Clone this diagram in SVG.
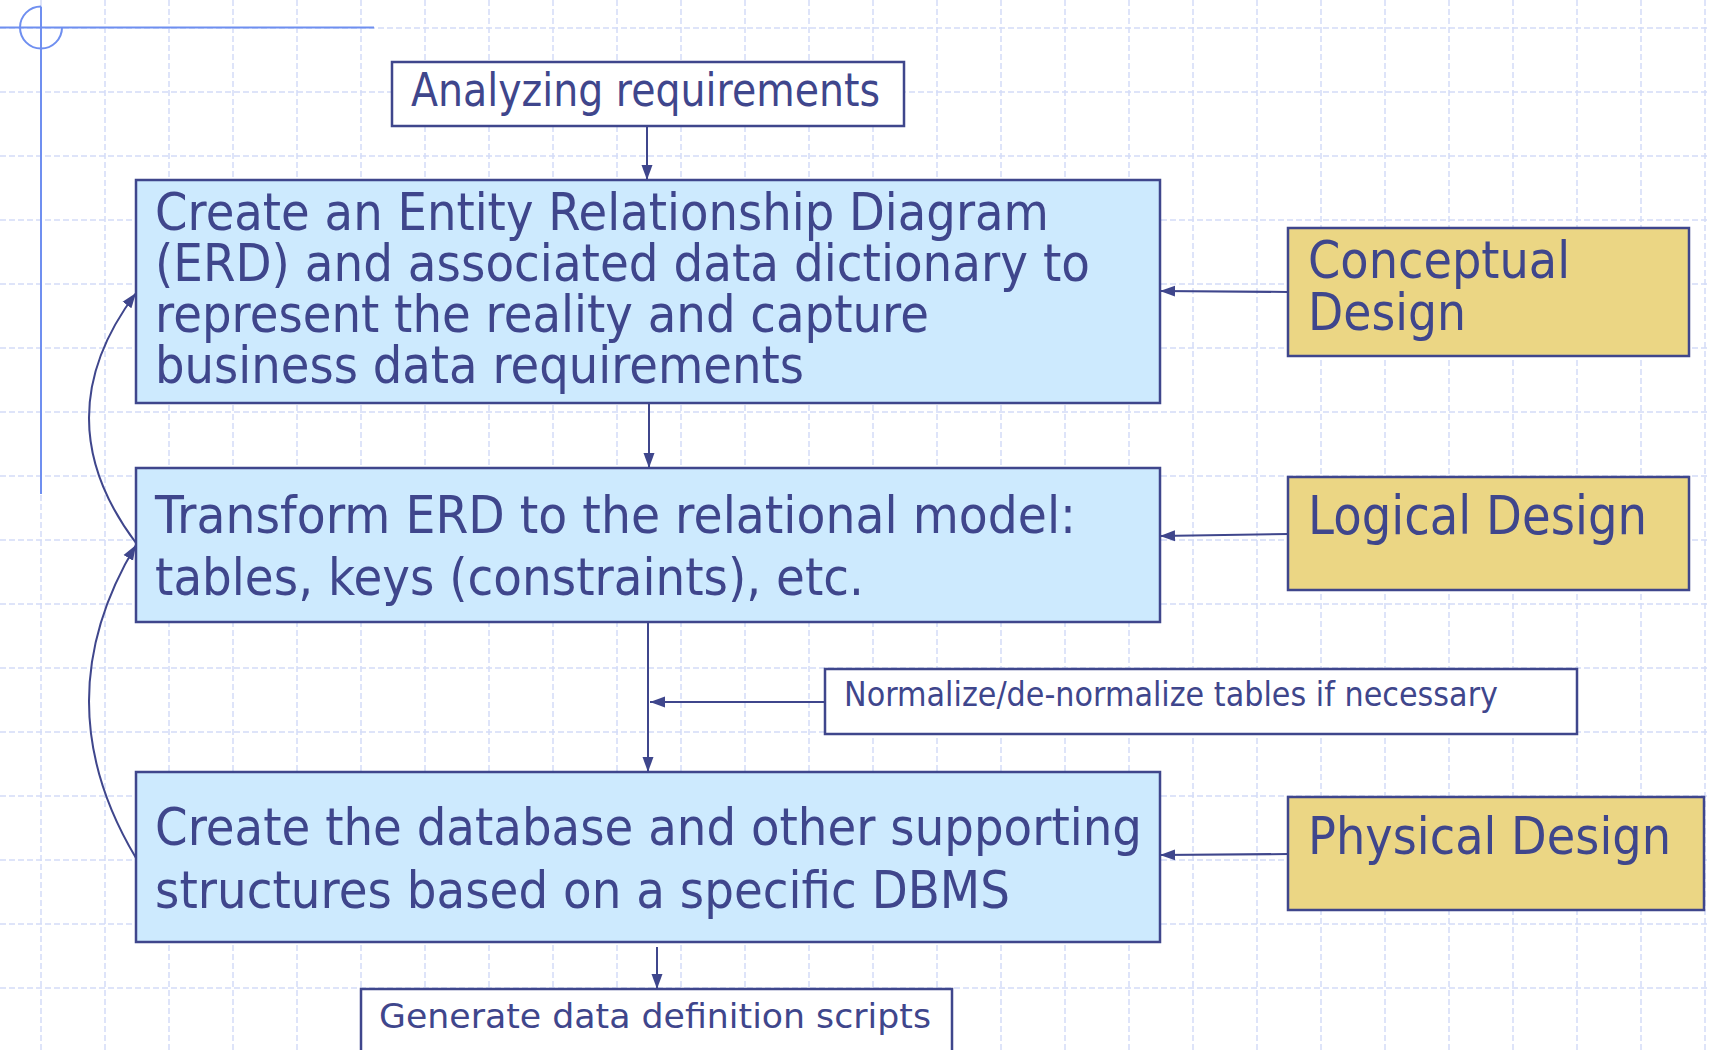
<svg xmlns="http://www.w3.org/2000/svg" width="1710" height="1050" viewBox="0 0 1710 1050">
<style>
.grid{stroke:#d3dcf7;stroke-width:1.5;stroke-dasharray:6 3;fill:none}
.deco{stroke:#6f8ff0;stroke-width:2;fill:none}
.box{stroke:#3f468c;stroke-width:2.5}
.blue{fill:#cdeafe}
.gold{fill:#ebd684}
.white{fill:#ffffff}
.t{fill:#3f468c;font-family:"DejaVu Sans","Noto Sans",sans-serif}
.c{stroke:#3f468c;stroke-width:2;fill:none}
</style>
<defs>
<marker id="ah" markerUnits="userSpaceOnUse" markerWidth="16" markerHeight="12" refX="15" refY="6" orient="auto">
<path d="M0,0.5 L15,6 L0,11.5 Z" fill="#3f468c"/>
</marker>
</defs>
<rect width="1710" height="1050" fill="#ffffff"/>
<g id="grid">
<path class="grid" d="M41,0V1050M105,0V1050M169,0V1050M233,0V1050M297,0V1050M361,0V1050M425,0V1050M489,0V1050M553,0V1050M617,0V1050M681,0V1050M745,0V1050M809,0V1050M873,0V1050M937,0V1050M1001,0V1050M1065,0V1050M1129,0V1050M1193,0V1050M1257,0V1050M1321,0V1050M1385,0V1050M1449,0V1050M1513,0V1050M1577,0V1050M1641,0V1050M1705,0V1050"/>
<path class="grid" d="M0,28H1710M0,92H1710M0,156H1710M0,220H1710M0,284H1710M0,348H1710M0,412H1710M0,476H1710M0,540H1710M0,604H1710M0,668H1710M0,732H1710M0,796H1710M0,860H1710M0,924H1710M0,988H1710"/>
</g>
<g id="decoration">
<path class="deco" d="M0,27.5H374M41,6.5V494"/>
<path class="deco" d="M41,6.5A21,21 0 1 0 62,27.5"/>
</g>
<g id="connectors">
<path class="c" marker-end="url(#ah)" d="M647,126V180"/>
<path class="c" marker-end="url(#ah)" d="M649,404V468"/>
<path class="c" marker-end="url(#ah)" d="M648,622V772"/>
<path class="c" marker-end="url(#ah)" d="M824,702H650"/>
<path class="c" marker-end="url(#ah)" d="M657,947V989"/>
<path class="c" marker-end="url(#ah)" d="M1288,292L1160,291"/>
<path class="c" marker-end="url(#ah)" d="M1288,534L1160,536"/>
<path class="c" marker-end="url(#ah)" d="M1288,854L1160,855"/>
<path class="c" marker-end="url(#ah)" d="M136,543Q42,418 136,293"/>
<path class="c" marker-end="url(#ah)" d="M136,858Q42,701 136,545"/>
</g>
<g id="analyzing">
<rect class="box white" x="392" y="62" width="512" height="64"/>
<text class="t" x="411" y="106" font-size="46" textLength="469" lengthAdjust="spacingAndGlyphs">Analyzing requirements</text>
</g>
<g id="erd">
<rect class="box blue" x="136" y="180" width="1024" height="223"/>
<text class="t" x="155" y="230" font-size="51" textLength="894" lengthAdjust="spacingAndGlyphs">Create an Entity Relationship Diagram</text>
<text class="t" x="155" y="281" font-size="51" textLength="935" lengthAdjust="spacingAndGlyphs">(ERD) and associated data dictionary to</text>
<text class="t" x="155" y="332" font-size="51" textLength="774" lengthAdjust="spacingAndGlyphs">represent the reality and capture</text>
<text class="t" x="155" y="383" font-size="51" textLength="649" lengthAdjust="spacingAndGlyphs">business data requirements</text>
</g>
<g id="logical">
<rect class="box blue" x="136" y="468" width="1024" height="154"/>
<text class="t" x="155" y="533" font-size="51" textLength="921" lengthAdjust="spacingAndGlyphs">Transform ERD to the relational model:</text>
<text class="t" x="155" y="595" font-size="51" textLength="709" lengthAdjust="spacingAndGlyphs">tables, keys (constraints), etc.</text>
</g>
<g id="physical">
<rect class="box blue" x="136" y="772" width="1024" height="170"/>
<text class="t" x="155" y="845" font-size="52" textLength="987" lengthAdjust="spacingAndGlyphs">Create the database and other supporting</text>
<text class="t" x="155" y="908" font-size="52" textLength="855" lengthAdjust="spacingAndGlyphs">structures based on a specific DBMS</text>
</g>
<g id="conceptual-design">
<rect class="box gold" x="1288" y="228" width="401" height="128"/>
<text class="t" x="1308" y="278" font-size="52" textLength="262" lengthAdjust="spacingAndGlyphs">Conceptual</text>
<text class="t" x="1308" y="330" font-size="52" textLength="158" lengthAdjust="spacingAndGlyphs">Design</text>
</g>
<g id="logical-design">
<rect class="box gold" x="1288" y="477" width="401" height="113"/>
<text class="t" x="1308" y="534" font-size="53" textLength="339" lengthAdjust="spacingAndGlyphs">Logical Design</text>
</g>
<g id="physical-design">
<rect class="box gold" x="1288" y="797" width="416" height="113"/>
<text class="t" x="1308" y="854" font-size="52" textLength="363" lengthAdjust="spacingAndGlyphs">Physical Design</text>
</g>
<g id="normalize">
<rect class="box white" x="825" y="669" width="752" height="65"/>
<text class="t" x="844" y="706" font-size="33" textLength="654" lengthAdjust="spacingAndGlyphs">Normalize/de-normalize tables if necessary</text>
</g>
<g id="generate">
<rect class="box white" x="361" y="989" width="591" height="80"/>
<text class="t" x="379" y="1028" font-size="34" textLength="552" lengthAdjust="spacingAndGlyphs">Generate data definition scripts</text>
</g>
</svg>
